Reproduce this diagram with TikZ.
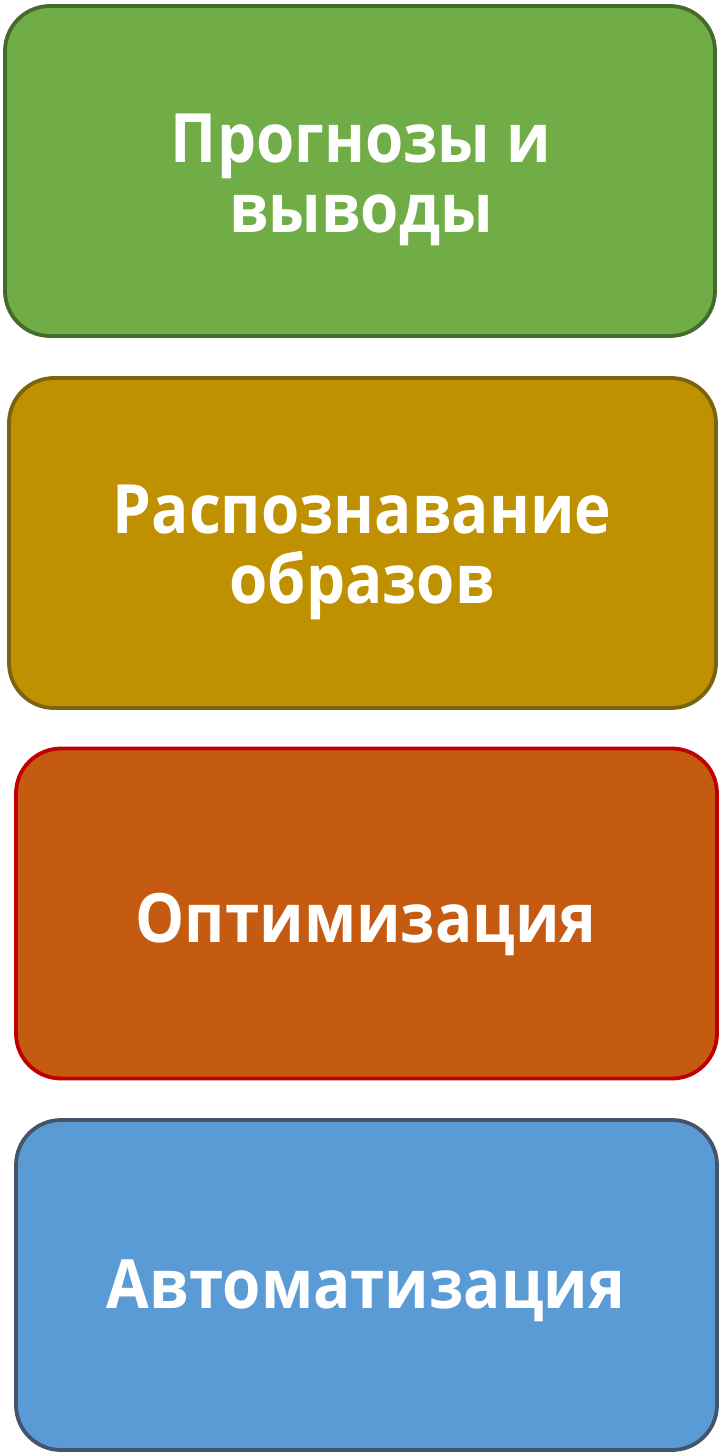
\documentclass[tikz,border=0pt]{standalone}
\usepackage{fontspec}
\setmainfont{Open Sans}[FakeStretch=0.91]
\definecolor{g1}{HTML}{70AD47}\definecolor{g2}{HTML}{446B2C}
\definecolor{y1}{HTML}{BF9000}\definecolor{y2}{HTML}{7A6410}
\definecolor{o1}{HTML}{C55A11}\definecolor{o2}{HTML}{C00000}
\definecolor{b1}{HTML}{5B9BD5}\definecolor{b2}{HTML}{44546A}
\begin{document}
\begin{tikzpicture}[x=1pt,y=1pt,
  card/.style={rectangle, rounded corners=45pt, line width=3.8pt, minimum width=710pt, minimum height=330pt, inner sep=0pt},
  label/.style={text=white, font=\fontsize{68}{70}\selectfont\bfseries, align=center, anchor=base, inner sep=0pt}]
\useasboundingbox (0,0) rectangle (720,-1456);
\node[card, fill=g1, draw=g2] (n1) at (360,-171) {};
\node[card, fill=y1, draw=y2, minimum width=707pt] (n2) at (362.5,-543) {};
\node[card, fill=o1, draw=o2, minimum width=701pt] (n3) at (366.5,-913.5) {};
\node[card, fill=b1, draw=b2, minimum width=701pt] (n4) at (366.5,-1285) {};
\node[label] (t1) at (361,-232) {Прогнозы и\\выводы};
\node[label] (t2) at (362,-603) {Распознавание\\образов};
\node[label] (t3) at (366,-942) {Оптимизация};
\node[label] (t4) at (366,-1308) {Автоматизация};
\end{tikzpicture}
\end{document}
